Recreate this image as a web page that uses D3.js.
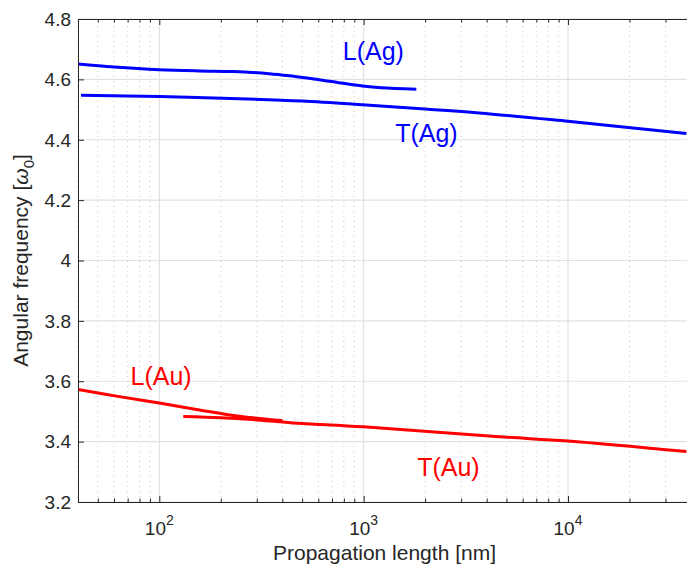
<!DOCTYPE html>
<html>
<head>
<meta charset="utf-8">
<script src="https://cdn.jsdelivr.net/npm/d3@7"></script>
<style>
    body { margin: 0; background: #fff; }
    text { font-family: "Liberation Sans", Arial, Helvetica, sans-serif; }
</style>
</head>
<body>
<div id="chart"></div>
<script>
// Curves (x = propagation length in nm, y = frequency in w0)
const lAgX = [40, 60, 100, 157, 230, 345, 433, 679, 988, 1220, 1810];
const lAgY = [4.651, 4.641, 4.632, 4.628, 4.626, 4.619, 4.612, 4.594, 4.578, 4.572, 4.567];

const tAgX = [41.4, 100, 246, 500, 986, 2000, 3680, 10000, 38000];
const tAgY = [4.547, 4.543, 4.536, 4.528, 4.516, 4.502, 4.489, 4.461, 4.421];

const lAuX = [40, 63.7, 100, 157, 246, 400];
const lAuY = [3.573, 3.549, 3.528, 3.505, 3.484, 3.470];

const tAuX = [131, 200, 285, 450, 1000, 4610, 10000, 38000];
const tAuY = [3.483, 3.479, 3.473, 3.462, 3.449, 3.416, 3.402, 3.367];

const yTicks = [3.2, 3.4, 3.6, 3.8, 4, 4.2, 4.4, 4.6, 4.8];
const xMajor = [100, 1000, 10000];

const labels = [
    { text: "L(Ag)", x: 1115, y: 4.664, color: "#0000ff" },
    { text: "T(Ag)", x: 2028, y: 4.394, color: "#0000ff" },
    { text: "L(Au)", x: 102, y: 3.588, color: "#ff0000" },
    { text: "T(Au)", x: 2600, y: 3.286, color: "#ff0000" },
];

const width = 687,
    height = 565,
    margin = { top: 19, right: -4, bottom: 63, left: 78 };

const svg = d3
    .select("#chart")
    .append("svg")
    .attr("width", width)
    .attr("height", height);

const x = d3
    .scaleLog()
    .domain([40, 40000])
    .range([margin.left, width - margin.right]);

const y = d3
    .scaleLinear()
    .domain([3.2, 4.8])
    .range([height - margin.bottom, margin.top]);

const x0 = margin.left,
    x1 = width - margin.right,
    y0 = height - margin.bottom,
    y1 = margin.top;

// minor log ticks (2..9 in each decade)
const xMinor = x.ticks().filter((d) => !xMajor.includes(d));

// Grid
const grid = svg.append("g");
grid.selectAll(".minor")
    .data(xMinor)
    .join("line")
    .attr("x1", (d) => x(d))
    .attr("x2", (d) => x(d))
    .attr("y1", y0)
    .attr("y2", y1)
    .attr("stroke", "#c8c8c8")
    .attr("stroke-width", 1)
    .attr("stroke-dasharray", "1,4");

grid.selectAll(".majx")
    .data(xMajor)
    .join("line")
    .attr("x1", (d) => x(d))
    .attr("x2", (d) => x(d))
    .attr("y1", y0)
    .attr("y2", y1)
    .attr("stroke", "#e1e1e1")
    .attr("stroke-width", 1.2);

grid.selectAll(".majy")
    .data(yTicks)
    .join("line")
    .attr("x1", x0)
    .attr("x2", x1)
    .attr("y1", (d) => y(d))
    .attr("y2", (d) => y(d))
    .attr("stroke", "#e1e1e1")
    .attr("stroke-width", 1.2);

// Curves
const line = d3
    .line()
    .x((d) => x(d[0]))
    .y((d) => y(d[1]))
    .curve(d3.curveCatmullRom.alpha(0.5));

const series = [
    { xs: lAgX, ys: lAgY, color: "#0000ff" },
    { xs: tAgX, ys: tAgY, color: "#0000ff" },
    { xs: lAuX, ys: lAuY, color: "#ff0000" },
    { xs: tAuX, ys: tAuY, color: "#ff0000" },
];

const clip = svg.append("clipPath").attr("id", "clip");
clip.append("rect")
    .attr("x", x0)
    .attr("y", y1)
    .attr("width", x1 - x0)
    .attr("height", y0 - y1);

svg.append("g")
    .attr("clip-path", "url(#clip)")
    .selectAll("path")
    .data(series)
    .join("path")
    .attr("d", (s) => line(s.xs.map((v, i) => [v, s.ys[i]])))
    .attr("fill", "none")
    .attr("stroke", (s) => s.color)
    .attr("stroke-width", 3)
    .attr("stroke-linejoin", "round");

// Axes, MATLAB style with inward ticks
const axisColor = "#262626";
svg.append("g")
    .attr("transform", `translate(0,${y0})`)
    .call(d3.axisBottom(x).tickValues(xMajor).tickSizeInner(-6).tickSizeOuter(0).tickFormat(""));
svg.append("g")
    .attr("transform", `translate(0,${y1})`)
    .call(d3.axisTop(x).tickValues(xMajor).tickSizeInner(-6).tickSizeOuter(0).tickFormat(""));
svg.append("g")
    .attr("transform", `translate(${x0},0)`)
    .call(d3.axisLeft(y).tickValues(yTicks).tickSizeInner(-6).tickSizeOuter(0).tickFormat(""));

// minor ticks on top and bottom
svg.append("g")
    .attr("transform", `translate(0,${y0})`)
    .call(d3.axisBottom(x).tickValues(xMinor).tickSizeInner(-3.5).tickSizeOuter(0).tickFormat(""));
svg.append("g")
    .attr("transform", `translate(0,${y1})`)
    .call(d3.axisTop(x).tickValues(xMinor).tickSizeInner(-3.5).tickSizeOuter(0).tickFormat(""));

svg.selectAll(".domain, .tick line")
    .attr("stroke", axisColor)
    .attr("stroke-width", 1);

// Y tick labels
svg.append("g")
    .selectAll("text")
    .data(yTicks)
    .join("text")
    .attr("x", x0 - 7)
    .attr("y", (d) => y(d))
    .attr("dy", "0.36em")
    .attr("text-anchor", "end")
    .attr("font-size", 19)
    .attr("fill", axisColor)
    .text((d) => d3.format("")(d));

// X tick labels 10^n
const xl = svg.append("g")
    .selectAll("text")
    .data(xMajor)
    .join("text")
    .attr("x", (d) => x(d))
    .attr("y", y0 + 33)
    .attr("text-anchor", "middle")
    .attr("font-size", 19)
    .attr("fill", axisColor);
xl.append("tspan").text("10");
xl.append("tspan")
    .attr("font-size", 14)
    .attr("dy", -10)
    .text((d) => Math.round(Math.log10(d)));

// Axis titles
svg.append("text")
    .attr("x", (x0 + x1) / 2)
    .attr("y", height - 5)
    .attr("text-anchor", "middle")
    .attr("font-size", 21)
    .attr("fill", axisColor)
    .text("Propagation length [nm]");

const yl = svg.append("text")
    .attr("transform", `translate(28,${(y0 + y1) / 2}) rotate(-90)`)
    .attr("text-anchor", "middle")
    .attr("font-size", 21)
    .attr("fill", axisColor);
yl.append("tspan").text("Angular frequency [");
yl.append("tspan").attr("font-style", "italic").text("ω");
yl.append("tspan").attr("font-size", 15).attr("dy", 6).text("0");
yl.append("tspan").attr("dy", -6).text("]");

// Curve labels
svg.append("g")
    .selectAll("text")
    .data(labels)
    .join("text")
    .attr("x", (d) => x(d.x))
    .attr("y", (d) => y(d.y))
    .attr("text-anchor", "middle")
    .attr("font-size", 25)
    .attr("fill", (d) => d.color)
    .text((d) => d.text);
</script>
</body>
</html>
